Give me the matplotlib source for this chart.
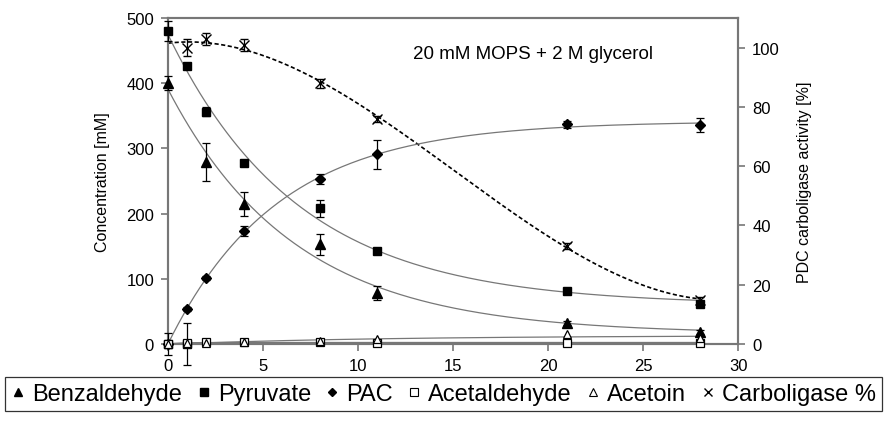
import matplotlib
matplotlib.use('Agg')
import matplotlib.pyplot as plt
from matplotlib.lines import Line2D
import numpy as np

plt.rcParams['font.family'] = ['Liberation Sans', 'DejaVu Sans']

# sampling times [h]
times = [0, 1, 2, 4, 8, 11, 21, 28]
times_nozero = [1, 2, 4, 8, 11, 21, 28]

# concentrations [mM]
benzaldehyde = [400, 279, 215, 153, 78, 32, 19]
benzaldehyde_t = [0, 2, 4, 8, 11, 21, 28]
benzaldehyde_err = [11, 29, 18, 16, 11, 3, 3]
pyruvate = [480, 426, 356, 278, 208, 143, 81, 61]
pyruvate_err = [15, 3, 7, 3, 13, 3, 3, 3]
pac = [0, 54, 101, 173, 253, 291, 337, 336]
pac_err = [2, 3, 3, 8, 7, 22, 5, 11]
acetaldehyde = [0, 2, 3, 3, 3, 2, 2, 1]
acetoin = [0, 1, 2, 3, 5, 8, 15, 9]

# zero readings at the start
blank_t = [0, 1]
blank = [0, 0]
blank_err = [17, 32]

# carboligase activity [%]
carboligase = [100, 103, 101, 88, 76, 33, 15]
carboligase_err = [3, 2, 2, 1.5, 1, 1, 1]


def fitExp(t, y):
    # y = a*exp(-k t) + c, grid search over k, linear solve for a and c
    t = np.asarray(t, float)
    y = np.asarray(y, float)
    best = None
    for k in np.linspace(0.005, 1.5, 1500):
        A = np.column_stack([np.exp(-k * t), np.ones_like(t)])
        coef, res, _, _ = np.linalg.lstsq(A, y, rcond=None)
        err = np.sum((A @ coef - y) ** 2)
        if best is None or err < best[0]:
            best = (err, k, coef)
    _, k, (a, c) = best
    tt = np.linspace(0, 28, 300)
    return tt, a * np.exp(-k * tt) + c


fig = plt.figure(figsize=(8.87, 4.31), dpi=100)
ax = fig.add_axes([0.1894, 0.1995, 0.643, 0.7565])
ax2 = ax.twinx()

curve_color = '#777777'
# fitted curves
for t, y in [(benzaldehyde_t, benzaldehyde), (times, pyruvate), (times, pac),
             (times, acetaldehyde), (times, acetoin)]:
    tt, yy = fitExp(t, y)
    ax.plot(tt, yy, color=curve_color, lw=0.9, zorder=2)

# data points with error bars
ebkw = dict(ecolor='black', elinewidth=0.9, capsize=3, capthick=0.9, ls='none', zorder=4, clip_on=False)
ax.errorbar(blank_t, blank, yerr=blank_err, fmt='s', color='black', ms=6, **ebkw)
ax.errorbar(benzaldehyde_t, benzaldehyde, yerr=benzaldehyde_err, fmt='^', color='black', ms=7, **ebkw)
ax.errorbar(times, pyruvate, yerr=pyruvate_err, fmt='s', color='black', ms=6, **ebkw)
ax.errorbar(times, pac, yerr=pac_err, fmt='D', color='black', ms=5, **ebkw)
ax.plot(times, acetaldehyde, 's', mfc='white', mec='black', ms=6, mew=0.9, zorder=5, clip_on=False)
ax.plot(times, acetoin, '^', mfc='white', mec='black', ms=6, mew=0.9, zorder=5, clip_on=False)

# carboligase on right axis, cubic trend
p = np.polyfit(times_nozero, carboligase, 3)
tt = np.linspace(0, 28, 300)
ax2.plot(tt, np.polyval(p, tt), color='black', lw=1.2, ls=(0, (2.5, 1.5)), zorder=3)
ax2.errorbar(times_nozero, carboligase, yerr=carboligase_err, fmt='x', color='black', ms=7, mew=1.0,
             ecolor='black', elinewidth=0.9, capsize=3, capthick=0.9, ls='none', zorder=4)

# axes styling
ax.set_xlim(0, 30)
ax.set_ylim(0, 500)
ax2.set_ylim(0, 110)
ax.set_xticks(range(0, 31, 5))
ax.set_yticks(range(0, 501, 100))
ax2.set_yticks(range(0, 101, 20))
for a in (ax, ax2):
    for s in a.spines.values():
        s.set_color('#777777')
        s.set_linewidth(1.5)
    a.tick_params(direction='out', length=5, width=1.2, color='#777777', labelsize=12, pad=5)
ax.set_ylabel('Concentration [mM]', fontsize=11.5, labelpad=12)
ax2.set_ylabel('PDC carboligase activity [%]', fontsize=11.5, labelpad=12)
ax.set_zorder(ax2.get_zorder() + 1)
ax.patch.set_visible(False)

ax.text(12.9, 445, '20 mM MOPS + 2 M glycerol', fontsize=13.5, ha='left', va='center')

# legend below the chart
handles = [
    Line2D([], [], marker='^', color='black', ls='none', ms=6),
    Line2D([], [], marker='s', color='black', ls='none', ms=5.5),
    Line2D([], [], marker='D', color='black', ls='none', ms=4.5),
    Line2D([], [], marker='s', mfc='white', mec='black', ls='none', ms=5.5, mew=0.8),
    Line2D([], [], marker='^', mfc='white', mec='black', ls='none', ms=6, mew=0.8),
    Line2D([], [], marker='x', color='black', ls='none', ms=6),
]
labels = ['Benzaldehyde', 'Pyruvate', 'PAC', 'Acetaldehyde', 'Acetoin', 'Carboligase %']
leg = fig.legend(handles, labels, loc='center', bbox_to_anchor=(0.5, 0.0835), ncol=6,
                 fontsize=17, frameon=True, fancybox=False, edgecolor='black',
                 handlelength=0.6, handletextpad=0.3, columnspacing=0.6,
                 borderpad=0.25, borderaxespad=0)
leg.get_frame().set_linewidth(0.9)

fig.savefig('out.png', dpi=100)
